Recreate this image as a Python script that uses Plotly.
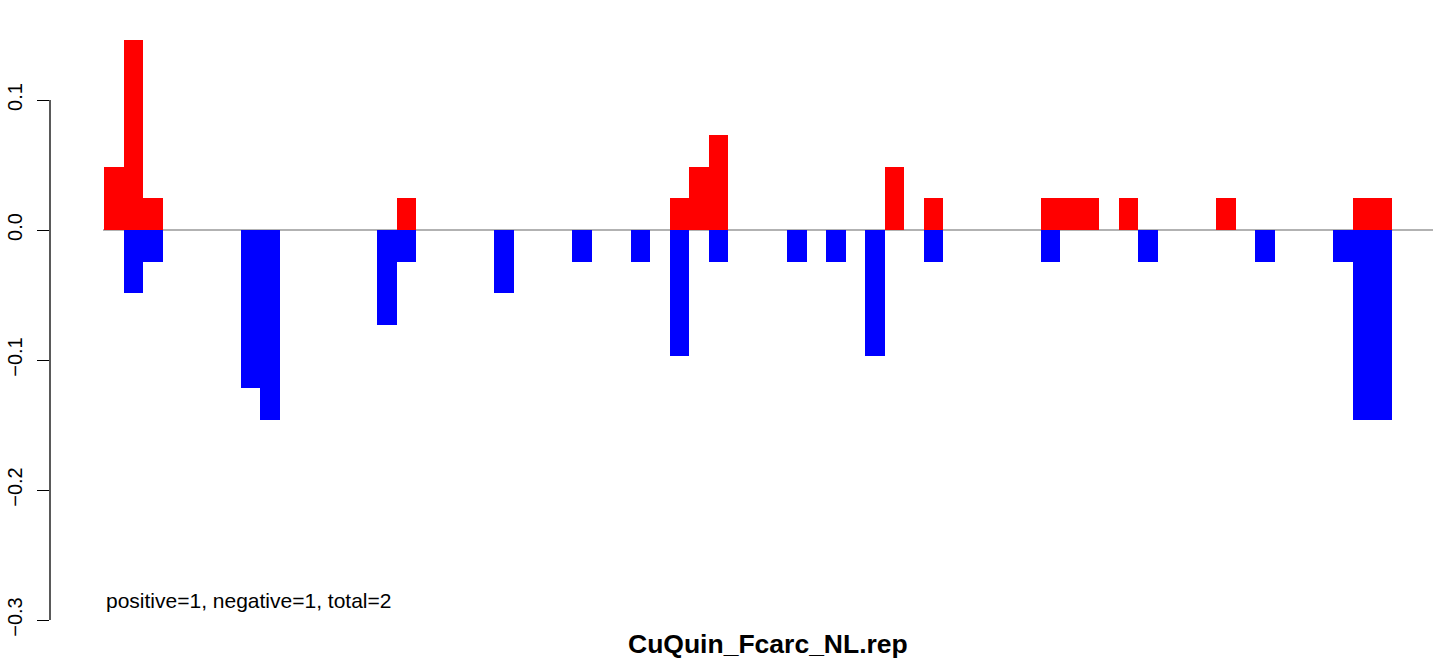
import plotly.graph_objects as go

# 66 bins; values in data units
UNIT = 0.0243
pos_counts = [2, 6, 1, 0, 0, 0, 0, 0, 0, 0,
              0, 0, 0, 0, 0, 1, 0, 0, 0, 0,
              0, 0, 0, 0, 0, 0, 0, 0, 0, 1,
              2, 3, 0, 0, 0, 0, 0, 0, 0, 0,
              2, 0, 1, 0, 0, 0, 0, 0, 1, 1,
              1, 0, 1, 0, 0, 0, 0, 1, 0, 0,
              0, 0, 0, 0, 1, 1]
neg_counts = [0, 2, 1, 0, 0, 0, 0, 5, 6, 0,
              0, 0, 0, 0, 3, 1, 0, 0, 0, 0,
              2, 0, 0, 0, 1, 0, 0, 1, 0, 4,
              0, 1, 0, 0, 0, 1, 0, 1, 0, 4,
              0, 0, 1, 0, 0, 0, 0, 0, 1, 0,
              0, 0, 0, 1, 0, 0, 0, 0, 0, 1,
              0, 0, 0, 1, 6, 6]
pos_values = [c * UNIT for c in pos_counts]
neg_values = [-c * UNIT for c in neg_counts]
bin_centers = [i + 0.5 for i in range(len(pos_counts))]

y_ticks = [-0.3, -0.2, -0.1, 0.0, 0.1]
title_text = "CuQuin_Fcarc_NL.rep"
note_text = "positive=1, negative=1, total=2"

W, H = 1449, 664
ML, MR, MT, MB = 50, 16, 17, 21
PX_PER_BIN = 19.515
x0 = -(104 - ML) / PX_PER_BIN
x1 = x0 + (W - ML - MR) / PX_PER_BIN
y_top = (230 - MT) / 1300.0
y_bot = (230 - (H - MB)) / 1300.0

fig = go.Figure()
fig.add_trace(go.Bar(x=bin_centers, y=pos_values, width=1.0,
                     marker=dict(color="#FF0000", line=dict(width=0)),
                     showlegend=False, hoverinfo="skip"))
fig.add_trace(go.Bar(x=bin_centers, y=neg_values, width=1.0,
                     marker=dict(color="#0000FF", line=dict(width=0)),
                     showlegend=False, hoverinfo="skip"))

# baseline (under bars)
fig.add_shape(type="line", xref="x", yref="y", x0=-0.05, x1=x1, y0=0, y1=0,
              line=dict(color="#999999", width=1.5), layer="below")
# R style y axis line
fig.add_shape(type="line", xref="paper", yref="y", x0=0, x1=0,
              y0=min(y_ticks), y1=max(y_ticks),
              line=dict(color="black", width=1.3), layer="above")

fig.add_annotation(text=note_text, xref="x", yref="y", x=0, y=-0.285,
                   xanchor="left", yanchor="middle", showarrow=False,
                   font=dict(family="Liberation Sans, Arial", size=21, color="black"))
fig.add_annotation(text="<b>" + title_text + "</b>", xref="paper", yref="paper",
                   x=(768 - ML) / (W - ML - MR), y=(H - MB - 644) / (H - MT - MB),
                   xanchor="center", yanchor="middle", showarrow=False,
                   font=dict(family="Liberation Sans, Arial", size=26.5, color="black"))

fig.update_layout(
    width=W, height=H,
    margin=dict(l=ML, r=MR, t=MT, b=MB, pad=0, autoexpand=False),
    paper_bgcolor="white", plot_bgcolor="white",
    barmode="overlay", bargap=0,
    font=dict(family="Liberation Sans, Arial", size=20, color="black"),
    xaxis=dict(range=[x0, x1], showgrid=False, zeroline=False, showline=False,
               showticklabels=False, ticks="", automargin=False),
    yaxis=dict(range=[y_bot, y_top], showgrid=False, zeroline=False, showline=False,
               automargin=False,
               tickmode="array", tickvals=y_ticks,
               ticktext=[("\u2212%.1f" % abs(v)) if v < 0 else "%.1f" % v for v in y_ticks],
               ticks="outside", ticklen=12, tickwidth=1.3, tickcolor="black",
               tickangle=-90, ticklabelstandoff=7,
               tickfont=dict(family="Liberation Sans, Arial", size=20, color="black")),
)

fig.write_html("out.html", config={"displayModeBar": False},
               post_script="document.body.style.margin='0';document.body.style.overflow='hidden';")
